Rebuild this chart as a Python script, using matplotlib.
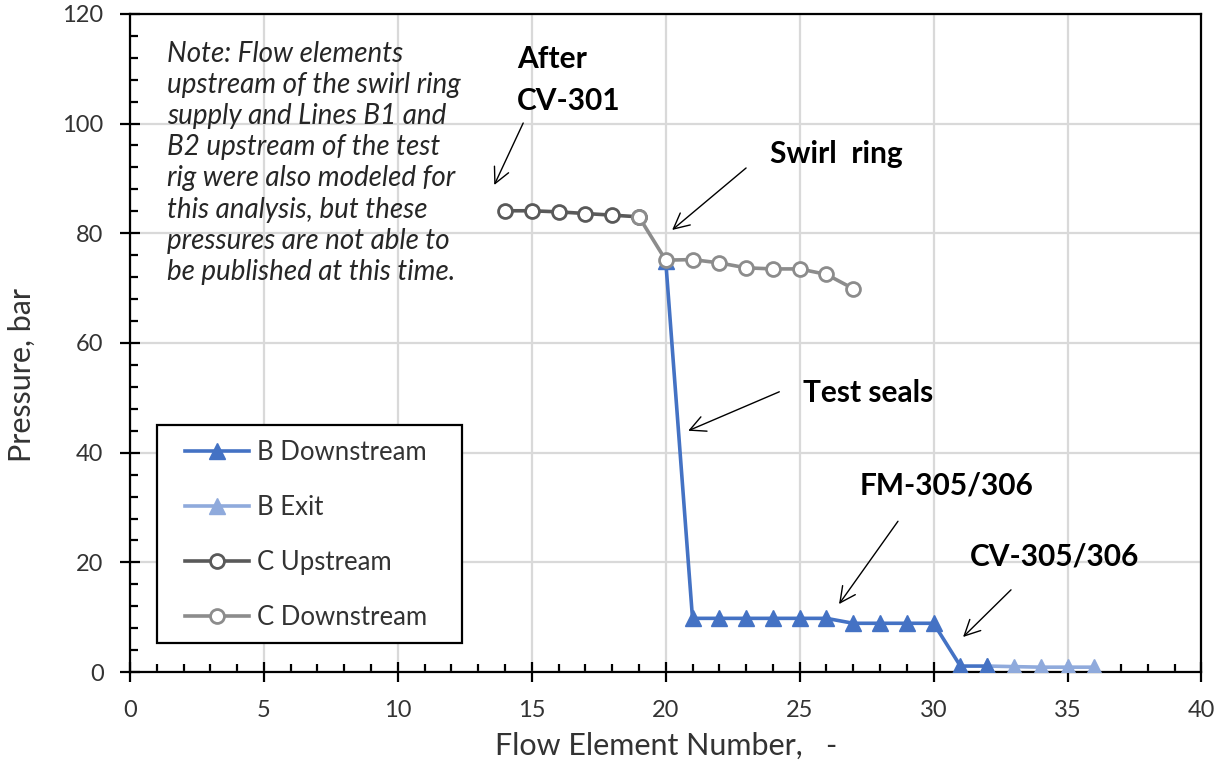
import numpy as np
import matplotlib.pyplot as plt
from matplotlib.patches import Rectangle
from matplotlib.ticker import MultipleLocator

plt.rcParams['font.family'] = ['Lato', 'DejaVu Sans']

# data
b_down_x = [20, 21, 22, 23, 24, 25, 26, 27, 28, 29, 30, 31, 32]
b_down_y = [75.0, 9.8, 9.8, 9.8, 9.8, 9.8, 9.8, 8.9, 8.9, 8.9, 8.9, 1.1, 1.1]

b_exit_x = [32, 33, 34, 35, 36]
b_exit_y = [1.1, 1.0, 0.9, 0.9, 0.9]

c_up_x = [14, 15, 16, 17, 18, 19]
c_up_y = [84.1, 84.1, 83.9, 83.6, 83.3, 83.0]

c_down_x = [19, 20, 21, 22, 23, 24, 25, 26, 27]
c_down_y = [83.0, 75.1, 75.2, 74.6, 73.7, 73.5, 73.5, 72.5, 69.9]

note_lines = [
    "Note: Flow elements",
    "upstream of the swirl ring",
    "supply and Lines B1 and",
    "B2 upstream of the test",
    "rig were also modeled for",
    "this analysis, but these",
    "pressures are not able to",
    "be published at this time.",
]

# (text, text x, text y, arrow tail, arrow head)
callouts = [
    ("After", 14.46, 110.2, None, None),
    ("CV-301", 14.46, 102.5, (14.68, 100.1), (13.6, 88.8)),
    ("Swirl  ring", 23.9, 92.8, (23.0, 91.9), (20.24, 80.6)),
    ("Test seals", 25.13, 49.2, (24.24, 51.1), (20.84, 44.0)),
    ("FM-305/306", 27.22, 32.3, (28.67, 27.5), (26.47, 12.4)),
    ("CV-305/306", 31.36, 19.5, (32.89, 15.0), (31.1, 6.4)),
]

fig = plt.figure(figsize=(12.26, 7.69), dpi=100)
ax = fig.add_axes([0.106, 0.126, 0.874, 0.856])

ax.plot(b_down_x, b_down_y, color='#4472C4', lw=2.6, marker='^', ms=12,
        label='B Downstream', zorder=3)
ax.plot(b_exit_x, b_exit_y, color='#8FAADC', lw=2.6, marker='^', ms=12,
        label='B Exit', zorder=2.9)
ax.plot(c_up_x, c_up_y, color='#595959', lw=2.6, marker='o', ms=10,
        mfc='white', mew=2, label='C Upstream', zorder=4)
ax.plot(c_down_x, c_down_y, color='#8C8C8C', lw=2.6, marker='o', ms=10,
        mfc='white', mew=2, label='C Downstream', zorder=4)

ax.set_xlim(0, 40)
ax.set_ylim(0, 120)
ax.xaxis.set_major_locator(MultipleLocator(5))
ax.xaxis.set_minor_locator(MultipleLocator(1))
ax.yaxis.set_major_locator(MultipleLocator(20))
ax.yaxis.set_minor_locator(MultipleLocator(4))
ax.grid(True, which='major', color='#D9D9D9', lw=1.6, zorder=0)
ax.set_axisbelow(True)

for s in ax.spines.values():
    s.set_linewidth(1.6)
    s.set_color('black')
ax.tick_params(which='major', direction='inout', length=14, width=1.6,
               labelsize=17, color='black', labelcolor='#333333')
ax.tick_params(which='minor', direction='in', length=6, width=1.6)
ax.tick_params(axis='x', pad=13)
ax.tick_params(axis='y', pad=12)

ax.set_xlabel("Flow Element Number,   -", fontsize=22, color='#333333', labelpad=8)
ax.set_ylabel("Pressure, bar", fontsize=22, color='#333333')
ax.yaxis.set_label_coords(-0.088, 0.451)

# note block
for i, line in enumerate(note_lines):
    ax.annotate(line, xy=(1.4, 111.3), xycoords='data',
                xytext=(0, -i * 31.2 * 0.72), textcoords='offset points',
                fontsize=20, style='italic', color='#262626', va='baseline')

for txt, tx, ty, tail, head in callouts:
    ax.text(tx, ty, txt, fontsize=21.5, fontweight='bold', color='black', va='baseline')
    if tail is not None:
        ax.annotate('', xy=head, xytext=tail,
                    arrowprops=dict(arrowstyle='->', color='black', lw=1.0,
                                    mutation_scale=28, shrinkA=0, shrinkB=0))

# legend: entries without frame, box drawn separately (wider side padding)
leg = ax.legend(loc='upper left', bbox_to_anchor=(0.0513, 0.3533), fontsize=18.5,
                frameon=False, handlelength=2.5, labelspacing=1.17,
                borderpad=0, handletextpad=0.3, borderaxespad=0)
for t in leg.get_texts():
    t.set_color('#333333')
ax.add_patch(Rectangle((0.0252, 0.0441), 0.2845, 0.3313, transform=ax.transAxes,
                       fill=True, facecolor='white', edgecolor='black', lw=1.6,
                       zorder=4.9))
leg.set_zorder(5)

fig.savefig('out.png', dpi=100)
